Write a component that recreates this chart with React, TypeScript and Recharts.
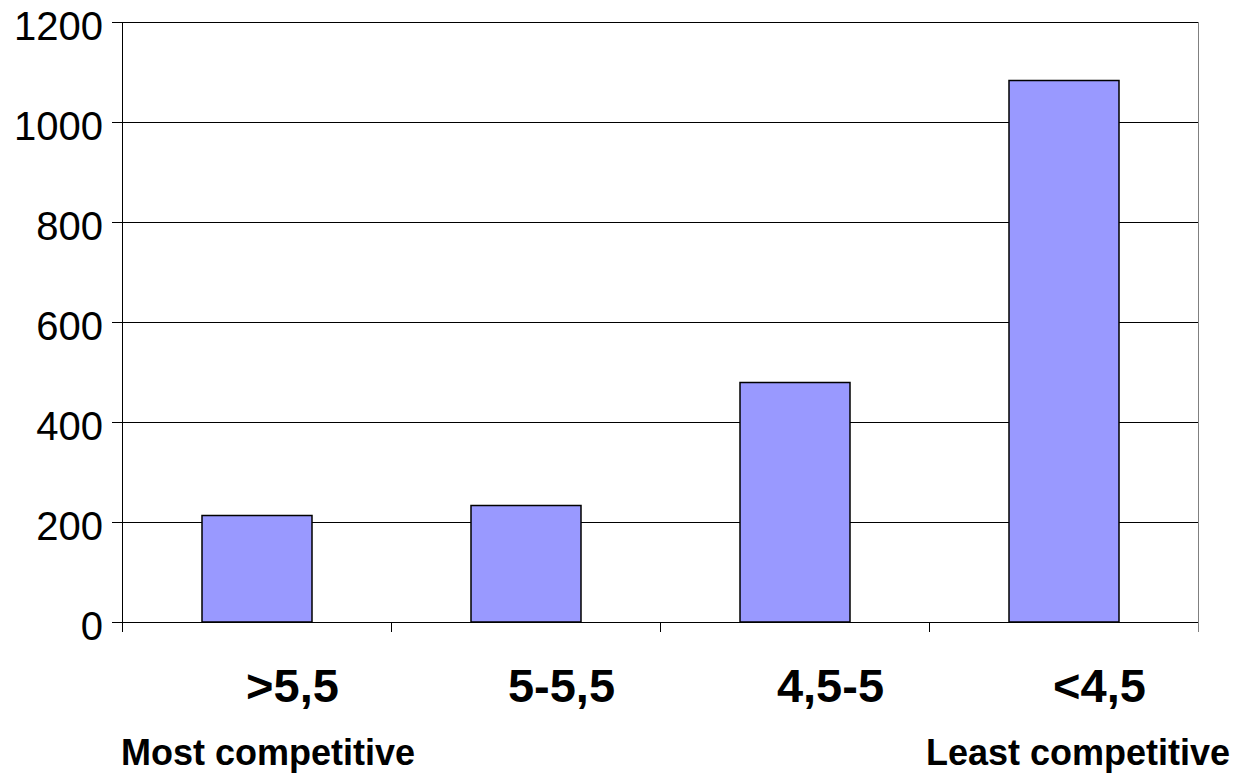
import React from 'react';
import { BarChart, Bar, XAxis, YAxis, CartesianGrid } from 'recharts';

const categories = ['>5,5', '5-5,5', '4,5-5', '<4,5'];
const counts = [213, 233, 479, 1083];
const yTicks = [0, 200, 400, 600, 800, 1000, 1200];
const endNotes = ['Most competitive', 'Least competitive'];

const data = categories.map((name, i) => ({ name, count: counts[i] }));

const W = 1236;
const H = 773;
const margin = { top: 22, right: 38, left: 0, bottom: 0 };
const yAxisWidth = 122;
const band = (W - margin.right - yAxisWidth) / categories.length;
const font = '"Liberation Sans", Arial, sans-serif';

function YTick(props: any) {
  const { x, y, payload } = props;
  return (
    <text x={x} y={y + 17.5} textAnchor="end" fontFamily={font} fontSize={40} fill="#000">
      {payload.value}
    </text>
  );
}

// category labels, plus tick marks on the band edges and the two end notes
function XTick(props: any) {
  const { x, y, payload, index } = props;
  const last = index === categories.length - 1;
  return (
    <g shapeRendering="crispEdges">
      <line x1={x - band / 2} y1={y - 10} x2={x - band / 2} y2={y} stroke="#000" />
      {last && <line x1={x + band / 2} y1={y - 10} x2={x + band / 2} y2={y} stroke="#808080" />}
      <text x={x + 36} y={y + 70} textAnchor="middle" fontFamily={font} fontWeight="bold" fontSize={47} fill="#000">
        {payload.value}
      </text>
      {index === 0 && (
        <text x={x - band / 2 - 1} y={y + 133} textAnchor="start" fontFamily={font} fontWeight="bold" fontSize={36} fill="#000">
          {endNotes[0]}
        </text>
      )}
      {last && (
        <text x={W - 6} y={y + 133} textAnchor="end" fontFamily={font} fontWeight="bold" fontSize={36} fill="#000">
          {endNotes[1]}
        </text>
      )}
    </g>
  );
}

export default function App() {
  return (
    <div style={{ position: 'absolute', left: 0, top: 0, width: W, height: H, background: '#fff' }}>
      <BarChart width={W} height={H} data={data} margin={margin} barSize={110}>
        <CartesianGrid vertical={false} stroke="#000" shapeRendering="crispEdges" />
        <CartesianGrid
          horizontal={false}
          stroke="#808080"
          shapeRendering="crispEdges"
          verticalCoordinatesGenerator={({ offset }: any) => [offset.left + offset.width]}
        />
        <XAxis
          dataKey="name"
          height={151}
          axisLine={{ stroke: '#000', shapeRendering: 'crispEdges' }}
          tickLine={false}
          tickSize={10}
          tickMargin={0}
          interval={0}
          tick={<XTick />}
        />
        <YAxis
          width={yAxisWidth}
          domain={[0, 1200]}
          ticks={yTicks}
          axisLine={{ stroke: '#000', shapeRendering: 'crispEdges' }}
          tickLine={{ stroke: '#000', shapeRendering: 'crispEdges' }}
          tickSize={10}
          tickMargin={9}
          tick={<YTick />}
        />
        <Bar dataKey="count" fill="#9999ff" stroke="#000" strokeWidth={1.5} isAnimationActive={false} />
      </BarChart>
    </div>
  );
}
